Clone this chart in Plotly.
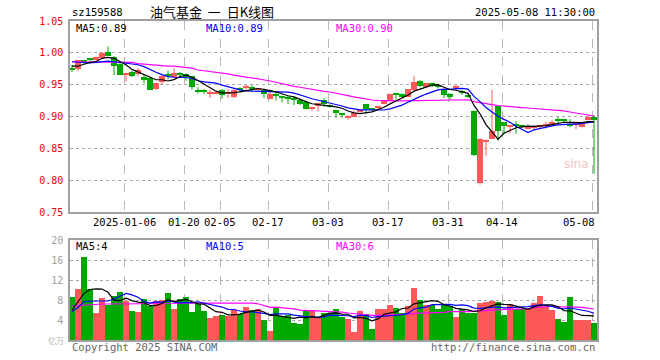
import plotly.graph_objects as go
import pandas as pd

# ---------------- data ----------------
dates = ["2024-12-23","2024-12-24","2024-12-25","2024-12-26","2024-12-27","2024-12-30","2024-12-31",
         "2025-01-02","2025-01-03","2025-01-06","2025-01-07","2025-01-08","2025-01-09","2025-01-10",
         "2025-01-13","2025-01-14","2025-01-15","2025-01-16","2025-01-17","2025-01-20","2025-01-21",
         "2025-01-22","2025-01-23","2025-01-24","2025-01-27","2025-02-05","2025-02-06","2025-02-07",
         "2025-02-10","2025-02-11","2025-02-12","2025-02-13","2025-02-14","2025-02-17","2025-02-18",
         "2025-02-19","2025-02-20","2025-02-21","2025-02-24","2025-02-25","2025-02-26","2025-02-27",
         "2025-02-28","2025-03-03","2025-03-04","2025-03-05","2025-03-06","2025-03-07","2025-03-10",
         "2025-03-11","2025-03-12","2025-03-13","2025-03-14","2025-03-17","2025-03-18","2025-03-19",
         "2025-03-20","2025-03-21","2025-03-24","2025-03-25","2025-03-26","2025-03-27","2025-03-28",
         "2025-03-31","2025-04-01","2025-04-02","2025-04-03","2025-04-07","2025-04-08","2025-04-09",
         "2025-04-10","2025-04-11","2025-04-14","2025-04-15","2025-04-16","2025-04-17","2025-04-18",
         "2025-04-21","2025-04-22","2025-04-23","2025-04-24","2025-04-25","2025-04-28","2025-04-29",
         "2025-04-30","2025-05-06","2025-05-07","2025-05-08"]

opens = [0.975,0.975,0.988,0.991,0.989,0.992,1.001,0.994,0.982,0.966,
         0.970,0.967,0.9625,0.960,0.943,0.954,0.965,0.9625,0.967,0.966,
         0.963,0.940,0.940,0.936,0.9365,0.9417,0.936,0.931,0.944,0.945,
         0.945,0.942,0.941,0.928,0.934,0.931,0.930,0.927,0.926,0.922,
         0.912,0.918,0.9266,0.918,0.910,0.904,0.898,0.900,0.908,0.920,
         0.912,0.914,0.919,0.925,0.936,0.935,0.931,0.942,0.955,0.947,
         0.953,0.9495,0.942,0.935,0.946,0.939,0.933,0.909,0.795,0.861,
         0.865,0.917,0.891,0.884,0.888,0.885,0.881,0.882,0.883,0.886,
         0.887,0.894,0.895,0.889,0.887,0.883,0.894,0.900]

highs = [0.981,0.989,0.989,0.991,0.994,1.000,1.010,0.995,0.984,0.969,
         0.972,0.976,0.9665,0.962,0.953,0.967,0.972,0.976,0.970,0.968,
         0.963,0.946,0.943,0.942,0.939,0.943,0.943,0.943,0.946,0.950,
         0.949,0.945,0.942,0.942,0.938,0.933,0.933,0.931,0.928,0.925,
         0.915,0.921,0.929,0.919,0.911,0.905,0.902,0.909,0.911,0.920,
         0.913,0.917,0.925,0.936,0.937,0.936,0.943,0.964,0.957,0.953,
         0.953,0.951,0.943,0.937,0.950,0.942,0.935,0.910,0.866,0.864,
         0.942,0.917,0.891,0.885,0.893,0.886,0.888,0.886,0.887,0.892,
         0.894,0.899,0.895,0.896,0.890,0.891,0.901,0.902]

lows = [0.970,0.971,0.983,0.987,0.989,0.991,0.995,0.965,0.965,0.955,
        0.962,0.963,0.952,0.942,0.942,0.950,0.958,0.962,0.961,0.956,
        0.942,0.936,0.935,0.929,0.935,0.928,0.929,0.929,0.938,0.942,
        0.938,0.941,0.929,0.927,0.925,0.922,0.920,0.918,0.918,0.911,
        0.909,0.908,0.915,0.914,0.898,0.898,0.895,0.900,0.906,0.904,
        0.909,0.911,0.919,0.925,0.927,0.931,0.931,0.941,0.946,0.947,
        0.946,0.944,0.929,0.926,0.941,0.934,0.929,0.838,0.793,0.838,
        0.865,0.862,0.873,0.873,0.873,0.882,0.880,0.878,0.882,0.881,
        0.886,0.889,0.891,0.883,0.880,0.883,0.894,0.810]

closes = [0.974,0.988,0.987,0.990,0.993,0.999,0.995,0.980,0.965,0.967,
          0.963,0.9735,0.958,0.942,0.952,0.963,0.964,0.969,0.966,0.962,
          0.947,0.939,0.939,0.937,0.937,0.934,0.937,0.942,0.943,0.946,
          0.944,0.945,0.9355,0.9355,0.933,0.930,0.929,0.926,0.920,0.912,
          0.913,0.921,0.919,0.916,0.906,0.903,0.899,0.905,0.909,0.912,
          0.911,0.917,0.924,0.935,0.935,0.932,0.943,0.954,0.9485,0.953,
          0.948,0.946,0.934,0.931,0.947,0.938,0.932,0.839,0.865,0.862,
          0.878,0.878,0.885,0.885,0.886,0.884,0.885,0.883,0.887,0.889,
          0.892,0.893,0.894,0.886,0.888,0.891,0.900,0.895]

volumes = [8.67,10.27,16.67,10.13,5.47,8.4,7.07,8.87,9.67,7.87,
           5.87,5.67,8.2,6.8,7.8,8.0,9.47,6.27,8.2,8.6,
           5.67,7.47,5.87,4.47,4.87,5.0,4.87,6.0,5.2,6.6,
           6.0,6.2,4.0,1.87,6.53,4.8,5.0,3.4,3.13,5.87,
           6.0,4.33,5.33,5.33,6.2,4.67,4.2,1.67,5.87,5.2,
           2.2,6.2,6.27,7.0,6.47,5.47,6.8,10.47,8.0,7.0,
           7.0,6.2,7.0,6.8,4.67,6.13,5.47,5.47,7.47,7.67,
           7.8,7.67,5.0,7.2,6.13,6.13,6.13,7.47,8.87,6.67,
           6.0,4.2,3.67,8.67,4.0,4.0,4.0,3.47]

# moving-average values for the days before each window is full
ma5_head = [0.979, 0.979, 0.982, 0.985]
ma10_head = [0.986, 0.985, 0.984, 0.984, 0.985, 0.986, 0.987, 0.986, 0.985]
ma30_head = [0.986, 0.986, 0.986, 0.986, 0.986, 0.985, 0.985, 0.985, 0.985, 0.985,
             0.985, 0.983, 0.982, 0.982, 0.981, 0.980, 0.979, 0.979, 0.978, 0.977,
             0.976, 0.973, 0.972, 0.971, 0.970, 0.969, 0.967, 0.965, 0.963]
vma5_head = [6.0, 7.6, 9.3, 10.1]
vma10_head = [5.7, 6.5, 7.7, 7.8, 7.8, 7.8, 7.8, 8.2, 8.8]
vma30_head = [6.8, 6.9, 7.0, 7.1, 7.2, 7.2, 7.2, 7.2, 7.2, 7.2,
              7.2, 7.3, 7.3, 7.3, 7.3, 7.3, 7.3, 7.3, 7.4, 7.4,
              7.4, 7.4, 7.4, 7.4, 7.5, 7.5, 7.5, 7.5, 7.5]

tick_dates = ["2025-01-06", "2025-01-20", "2025-02-05", "2025-02-17", "2025-03-03",
              "2025-03-17", "2025-03-31", "2025-04-14", "2025-05-08"]
tick_labels = ["2025-01-06", "01-20", "02-05", "02-17", "03-03", "03-17", "03-31", "04-14", "05-08"]
price_ticks = [0.75, 0.80, 0.85, 0.90, 0.95, 1.00, 1.05]
vol_ticks = [4, 8, 12, 16, 20]

code = "sz159588"
title = "油气基金\u00a0\u00a0一\u00a0\u00a0日K线图"
stamp = "2025-05-08 11:30:00"
ma_price_labels = ["MA5:0.89", "MA10:0.89", "MA30:0.90"]
ma_vol_labels = ["MA5:4", "MA10:5", "MA30:6"]
vol_unit = "亿万"

# ---------------- helpers ----------------
RED = "#ff5858"
GREEN = "#00a800"
MONO = "DejaVu Sans Mono"

def ma(values, n, head):
    s = pd.Series(values).rolling(n).mean().tolist()
    return head + s[n - 1:]

N = len(dates)
xs = list(range(N))
up = [c >= o for o, c in zip(opens, closes)]
colors = [RED if u else GREEN for u in up]

W, H = 660, 360
L, R, T, B = 70, 63, 21, 20
PW, PH = W - L - R, H - T - B

def px(x):
    return (x - L) / PW

def py(y):
    return (H - B - y) / PH

fig = go.Figure()

# wicks
for flag, col in [(True, RED), (False, GREEN)]:
    wx, wy = [], []
    for i in xs:
        if up[i] == flag:
            wx += [i, i, None]
            wy += [lows[i], highs[i], None]
    fig.add_trace(go.Scatter(x=wx, y=wy, mode="lines", line=dict(color=col, width=1),
                             hoverinfo="skip", showlegend=False, xaxis="x", yaxis="y"))

# bodies
base = [min(o, c) for o, c in zip(opens, closes)]
height = [max(abs(c - o), 0.0016) for o, c in zip(opens, closes)]
fig.add_trace(go.Bar(x=xs, y=height, base=base, width=0.84, marker=dict(color=colors, line=dict(width=0)),
                     showlegend=False, xaxis="x", yaxis="y"))

# price MAs
for vals, n, head, col in [(closes, 30, ma30_head, "#ff00ff"), (closes, 10, ma10_head, "#0000ff"),
                           (closes, 5, ma5_head, "#000000")]:
    fig.add_trace(go.Scatter(x=xs, y=ma(vals, n, head), mode="lines", line=dict(color=col, width=1.2),
                             showlegend=False, xaxis="x", yaxis="y"))

# volume
fig.add_trace(go.Bar(x=xs, y=volumes, width=0.84, marker=dict(color=colors, line=dict(width=0)),
                     showlegend=False, xaxis="x2", yaxis="y2"))
for vals, n, head, col in [(volumes, 30, vma30_head, "#ff00ff"), (volumes, 10, vma10_head, "#0000ff"),
                           (volumes, 5, vma5_head, "#000000")]:
    fig.add_trace(go.Scatter(x=xs, y=ma(vals, n, head), mode="lines", line=dict(color=col, width=1.2),
                             showlegend=False, xaxis="x2", yaxis="y2"))

tick_idx = [dates.index(d) for d in tick_dates]
grid_x = [i - 0.33 for i in tick_idx]
xr = [-0.333, N - 0.5]

axis_common = dict(range=xr, showgrid=True, tickvals=grid_x, griddash="dash", gridcolor="#b8b8b8",
                   gridwidth=1, showticklabels=False, ticks="", showline=True, mirror=True,
                   linecolor="#a0a0a0", linewidth=1.5, zeroline=False, fixedrange=True)

main_bottom = py(212)
vol_top = py(240)

fig.update_layout(
    width=W, height=H, margin=dict(l=L, r=R, t=T, b=B),
    paper_bgcolor="white", plot_bgcolor="white", barmode="overlay", bargap=0,
    xaxis=dict(domain=[0, 1], anchor="y", **axis_common),
    xaxis2=dict(domain=[0, 1], anchor="y2", matches="x", **axis_common),
    yaxis=dict(domain=[main_bottom, 1], range=[0.75, 1.05], tickvals=price_ticks,
               ticktext=["%.2f" % v for v in price_ticks], tickfont=dict(family=MONO, size=10, color="#ee0000"),
               showgrid=True, griddash="dot", gridcolor="#a8a8a8", ticks="", showline=True, mirror=True,
               linecolor="#a0a0a0", linewidth=1.5, zeroline=False, ticklabelstandoff=3, fixedrange=True),
    yaxis2=dict(domain=[0, vol_top], range=[0, 20], tickvals=vol_ticks,
                tickfont=dict(family=MONO, size=10, color="#a0a0a0"),
                showgrid=True, griddash="dot", gridcolor="#a8a8a8", ticks="", showline=True, mirror=True,
                linecolor="#a0a0a0", linewidth=1.5, zeroline=False, ticklabelstandoff=3, fixedrange=True),
    showlegend=False,
)

ann = []
def text(x, y, s, anchor="left", color="black", size=10, family=MONO, **kw):
    ann.append(dict(x=px(x), y=py(y), xref="paper", yref="paper", text=s, showarrow=False,
                    xanchor=anchor, yanchor="middle", font=dict(family=family, size=size, color=color), **kw))

text(70, 12.5, code, size=10.5)
text(212, 11, title, anchor="center", size=13, family="Noto Sans CJK SC")
text(597, 12.5, stamp, anchor="right", size=10.5)

ma_cols = ["#000000", "#0000ff", "#ff00ff"]
ma_x = [74, 204, 334]
for s, c, x in zip(ma_price_labels, ma_cols, ma_x):
    text(x, 27.5, s, color=c, size=10.5)
for s, c, x in zip(ma_vol_labels, ma_cols, ma_x):
    text(x, 246, s, color=c, size=10.5)

for i, lab in zip(tick_idx, tick_labels):
    gx = L + (i - 0.33 - xr[0]) / (xr[1] - xr[0]) * PW
    if lab == tick_labels[-1]:
        text(597, 222, lab, anchor="right", size=10.5)
    else:
        text(gx, 222, lab, anchor="center", size=10.5)

text(70, 347, "Copyright 2025 SINA.COM", color="#666666", size=10.5)
text(597, 347, "http://finance.sina.com.cn", anchor="right", color="#666666", size=10.5)
text(66, 340, vol_unit, anchor="right", color="#b0b0b0", size=8, family="Noto Sans CJK SC")
text(576, 164, "sina", anchor="center", color="#f2c4c4", size=12, family="DejaVu Sans")

fig.update_layout(annotations=ann)
fig.write_html("out.html", config={"displayModeBar": False},
               post_script="document.body.style.margin='0px';document.body.style.overflow='hidden';")
